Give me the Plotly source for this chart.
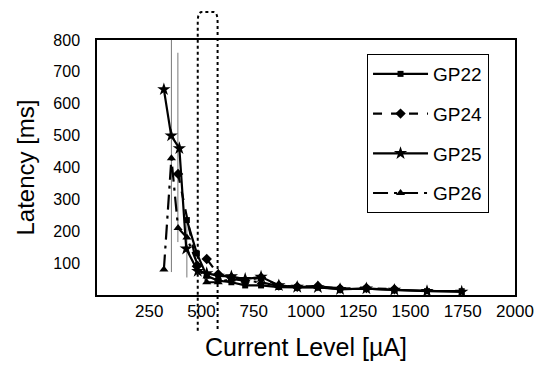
import plotly.graph_objects as go

# ---- data ----
gp22_x = [430, 478, 525, 580, 643, 709, 785, 870, 958, 1057, 1163, 1289, 1423, 1579, 1745]
gp22_y = [235, 130, 60, 45, 40, 30, 30, 25, 24, 25, 18, 20, 16, 12, 12]

gp24_x = [388, 478, 525, 580, 643, 709, 785, 870, 958, 1057, 1163, 1289, 1423]
gp24_y = [380, 90, 113, 65, 55, 45, 55, 30, 26, 28, 20, 22, 18]

gp25_x = [320, 355, 394, 427, 482, 525, 580, 643, 709, 785, 870, 958, 1057, 1163, 1289, 1423, 1579, 1745]
gp25_y = [645, 500, 460, 145, 75, 68, 60, 58, 50, 57, 30, 25, 24, 18, 20, 16, 12, 10]

gp26_x = [320, 356, 388, 430, 482, 525, 580, 643, 709, 785, 870, 958, 1057, 1163]
gp26_y = [80, 429, 210, 180, 95, 40, 40, 50, 45, 40, 28, 26, 25, 22]

# thin vertical range lines
vline_x = [356, 387, 430]
vline_top = [800, 760, 240]
vline_bottom = [72, 166, 55]

# highlighted current range (dotted box)
box_x = [482, 577]

x_ticks = [250, 500, 750, 1000, 1250, 1500, 1750, 2000]
y_ticks = [100, 200, 300, 400, 500, 600, 700, 800]

FONT = "Liberation Sans, Arial, sans-serif"

fig = go.Figure()

# vertical thin lines
vx, vy = [], []
for x, t, b in zip(vline_x, vline_top, vline_bottom):
    vx += [x, x, None]
    vy += [t, b, None]
fig.add_trace(go.Scatter(x=vx, y=vy, mode="lines", line=dict(color="#777777", width=1),
                         showlegend=False, hoverinfo="skip"))

series = [
    ("GP22", gp22_x, gp22_y, "solid", "square", 6),
    ("GP24", gp24_x, gp24_y, "dash", "diamond", 8),
    ("GP25", gp25_x, gp25_y, "solid", "star", 10),
    ("GP26", gp26_x, gp26_y, "longdashdot", "triangle-up", 8),
]
for name, xs, ys, dash, sym, size in series:
    fig.add_trace(go.Scatter(
        x=xs, y=ys, name=name, mode="lines+markers", legendgroup=name,
        line=dict(color="black", width=2.2, dash=dash),
        marker=dict(symbol=sym, size=size, color="black"),
    ))

# dotted rounded box around ~500 uA
x0, x1 = box_x
fig.add_shape(type="path", xref="x", yref="paper",
              path=f"M {x0},-0.14 L {x0},1.07 Q {x0},1.11 {x0+20},1.11 L {x1-20},1.11 Q {x1},1.11 {x1},1.07 L {x1},-0.14",
              line=dict(color="black", width=2, dash="dot"), layer="above")

fig.update_layout(
    width=545, height=371,
    margin=dict(l=97, r=30, t=40, b=76),
    paper_bgcolor="white", plot_bgcolor="white",
    font=dict(family=FONT, color="black"),
    legend=dict(x=0.646, y=0.945, xanchor="left", yanchor="top",
                bordercolor="black", borderwidth=1, bgcolor="white",
                font=dict(size=19, family=FONT), tracegroupgap=12,
                entrywidth=125, itemwidth=55),
)
fig.update_xaxes(range=[0, 2000], tickvals=x_ticks, ticktext=[str(v) for v in x_ticks],
                 showgrid=False, zeroline=False, showline=True, linecolor="black", linewidth=1.5,
                 mirror=True, ticks="", tickfont=dict(size=17),
                 title=dict(text="Current Level [µA]", font=dict(size=25), standoff=18))
fig.update_yaxes(range=[0, 800], tickvals=y_ticks, ticktext=[str(v) for v in y_ticks],
                 showgrid=False, zeroline=False, showline=True, linecolor="black", linewidth=1.5,
                 mirror=True, ticks="", tickfont=dict(size=16), ticklabelstandoff=12,
                 title=dict(text="Latency [ms]", font=dict(size=24), standoff=12))

fig.write_html("out.html")
